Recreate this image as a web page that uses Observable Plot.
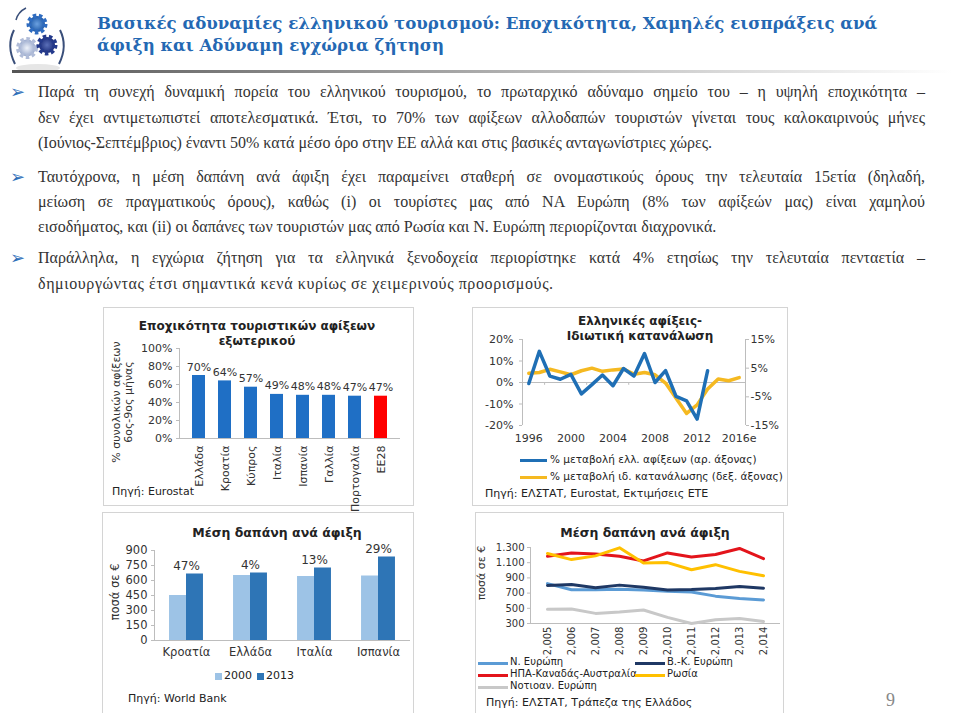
<!DOCTYPE html>
<html><head><meta charset="utf-8">
<script src="https://cdn.jsdelivr.net/npm/d3@7"></script>
<script src="https://cdn.jsdelivr.net/npm/@observablehq/plot@0.6"></script>
<style>
html,body{margin:0;padding:0;background:#fff;}
body{width:960px;height:713px;overflow:hidden;position:relative;font-family:"DejaVu Sans",sans-serif;color:#333;}
.abs{position:absolute;}
#title{left:97px;top:12px;font-family:"DejaVu Serif",serif;font-weight:bold;font-size:16.6px;line-height:22px;color:#2468b3;white-space:nowrap;}
#rule{left:12px;top:70px;width:940px;height:3px;background:linear-gradient(to right,#555 0%,#999 40%,#d8d8d8 75%,#fff 100%);}
.line{position:absolute;left:38px;width:887px;font-family:"Liberation Serif","Times New Roman",serif;font-size:16px;color:#333;white-space:nowrap;text-align:justify;text-align-last:justify;line-height:20px;}
.line.last{text-align:left;text-align-last:left;}
.bullet{position:absolute;left:10px;font-size:18px;color:#2e6eb8;font-family:"DejaVu Sans";line-height:20px;}
.box{position:absolute;border:1px solid #d4d4d4;box-sizing:border-box;}
.ctitle{position:absolute;font-weight:bold;font-size:12px;color:#222;text-align:center;line-height:15px;white-space:nowrap;transform:translateX(-50%);}
.src{position:absolute;font-size:11px;color:#222;white-space:nowrap;}
.rot{position:absolute;transform:translate(-50%,-50%) rotate(-90deg);white-space:nowrap;text-align:center;font-size:11px;line-height:12px;color:#333;}
.leg{position:absolute;font-size:10.5px;color:#222;white-space:nowrap;}
.leg4{position:absolute;font-size:10px;color:#222;white-space:nowrap;}
.lsw{position:absolute;height:3px;}
.chart{position:absolute;}
</style></head><body>

<svg class="abs" style="left:0;top:0" width="80" height="75" viewBox="0 0 80 75">
  <defs><radialGradient id="g1"><stop offset="0" stop-color="#6aa0e0"/><stop offset="1" stop-color="#1f5aa8"/></radialGradient>
  <radialGradient id="g2"><stop offset="0" stop-color="#5a6fb8"/><stop offset="1" stop-color="#1c2d7a"/></radialGradient>
  <radialGradient id="g3"><stop offset="0" stop-color="#eef2fa"/><stop offset="1" stop-color="#9aaacd"/></radialGradient></defs>
  <ellipse cx="38" cy="68" rx="22" ry="4" fill="#e6e6e6"/>
  <circle cx="37" cy="24" r="8" fill="url(#g1)" stroke="#2f6cc0" stroke-width="5" stroke-dasharray="3.2 2.4"/>
  <circle cx="27" cy="48" r="8.5" fill="url(#g3)" stroke="#b0bcd8" stroke-width="5" stroke-dasharray="3.2 2.4"/>
  <circle cx="47" cy="45" r="8" fill="url(#g2)" stroke="#243a8c" stroke-width="5" stroke-dasharray="3.2 2.4"/>
  <path d="M14 30 Q6 46 15 64" fill="none" stroke="#3a4f7a" stroke-width="2"/>
  <path d="M60 30 Q68 46 59 64" fill="none" stroke="#3a4f7a" stroke-width="2"/>
  <path d="M26 8 Q18 12 16 20" fill="none" stroke="#3a4f7a" stroke-width="1.5"/>
</svg>

<div id="title" class="abs">Βασικές αδυναμίες ελληνικού τουρισμού: Εποχικότητα, Χαμηλές εισπράξεις ανά<br>άφιξη και Αδύναμη εγχώρια ζήτηση</div>
<div id="rule" class="abs"></div>

<div class="bullet" style="top:82px">➢</div>
<div class="line" style="top:82px">Παρά τη συνεχή δυναμική πορεία του ελληνικού τουρισμού, το πρωταρχικό αδύναμο σημείο του – η υψηλή εποχικότητα –</div>
<div class="line" style="top:108px">δεν έχει αντιμετωπιστεί αποτελεσματικά. Έτσι, το 70% των αφίξεων αλλοδαπών τουριστών γίνεται τους καλοκαιρινούς μήνες</div>
<div class="line last" style="top:133px">(Ιούνιος-Σεπτέμβριος) έναντι 50% κατά μέσο όρο στην ΕΕ αλλά και στις βασικές ανταγωνίστριες χώρες.</div>

<div class="bullet" style="top:167px">➢</div>
<div class="line" style="top:167px">Ταυτόχρονα, η μέση δαπάνη ανά άφιξη έχει παραμείνει σταθερή σε ονομαστικούς όρους την τελευταία 15ετία (δηλαδή,</div>
<div class="line" style="top:192px">μείωση σε πραγματικούς όρους), καθώς (i) οι τουρίστες μας από ΝΑ Ευρώπη (8% των αφίξεών μας) είναι χαμηλού</div>
<div class="line last" style="top:217px">εισοδήματος, και (ii) οι δαπάνες των τουριστών μας από Ρωσία και Ν. Ευρώπη περιορίζονται διαχρονικά.</div>

<div class="bullet" style="top:248px">➢</div>
<div class="line" style="top:248px">Παράλληλα, η εγχώρια ζήτηση για τα ελληνικά ξενοδοχεία περιορίστηκε κατά 4% ετησίως την τελευταία πενταετία –</div>
<div class="line last" style="top:274px;letter-spacing:0.6px">δημιουργώντας έτσι σημαντικά κενά κυρίως σε χειμερινούς προορισμούς.</div>

<div class="box" style="left:103px;top:307px;width:311px;height:199px"></div>
<div class="box" style="left:472px;top:307px;width:316px;height:199px"></div>
<div class="box" style="left:102px;top:512px;width:312px;height:210px"></div>
<div class="box" style="left:475px;top:512px;width:309px;height:210px"></div>

<div id="c1" class="chart" style="left:103px;top:307px"></div>
<div id="c2" class="chart" style="left:472px;top:308px"></div>
<div id="c3" class="chart" style="left:103px;top:512px"></div>
<div id="c4" class="chart" style="left:475px;top:512px"></div>

<div class="ctitle" style="left:257px;top:319px">Εποχικότητα τουριστικών αφίξεων<br>εξωτερικού</div>
<div class="rot" style="left:123px;top:402px">% συνολικών αφίξεων<br>6ος-9ος μήνας</div>
<div class="src" style="left:112px;top:485px">Πηγή: Eurostat</div>

<div class="ctitle" style="left:640px;top:314px">Ελληνικές αφίξεις-<br>Ιδιωτική κατανάλωση</div>
<div class="lsw" style="left:520px;top:459px;width:27px;background:#1f6fb5"></div>
<div class="leg" style="left:550px;top:453px">% μεταβολή ελλ. αφίξεων (αρ. άξονας)</div>
<div class="lsw" style="left:520px;top:476px;width:27px;background:#f5b921"></div>
<div class="leg" style="left:550px;top:470px">% μεταβολή ιδ. κατανάλωσης (δεξ. άξονας)</div>
<div class="src" style="left:485px;top:487px">Πηγή: ΕΛΣΤΑΤ, Eurostat, Εκτιμήσεις ΕΤΕ</div>

<div class="ctitle" style="left:277px;top:525px;font-size:12.5px">Μέση δαπάνη ανά άφιξη</div>
<div class="rot" style="left:115px;top:592px;font-size:11.5px">ποσά σε €</div>
<div class="lsw" style="left:215px;top:673px;width:7px;height:7px;background:#9dc3e6"></div>
<div class="leg" style="left:224px;top:669px;font-size:11px">2000</div>
<div class="lsw" style="left:257px;top:673px;width:7px;height:7px;background:#2e75b6"></div>
<div class="leg" style="left:266px;top:669px;font-size:11px">2013</div>
<div class="src" style="left:128px;top:692px">Πηγή: World Bank</div>

<div class="ctitle" style="left:645px;top:525px;font-size:12.5px">Μέση δαπάνη ανά άφιξη</div>
<div class="rot" style="left:482px;top:573px">ποσά σε €</div>
<div class="lsw" style="left:478px;top:662px;width:30px;background:#5b9bd5"></div>
<div class="leg4" style="left:510px;top:656px">Ν. Ευρώπη</div>
<div class="lsw" style="left:635px;top:662px;width:30px;background:#1f3864"></div>
<div class="leg4" style="left:667px;top:656px">Β.-Κ. Ευρώπη</div>
<div class="lsw" style="left:478px;top:674px;width:30px;background:#e3141b"></div>
<div class="leg4" style="left:510px;top:668px">ΗΠΑ-Καναδάς-Αυστραλία</div>
<div class="lsw" style="left:635px;top:674px;width:30px;background:#ffc000"></div>
<div class="leg4" style="left:667px;top:668px">Ρωσία</div>
<div class="lsw" style="left:478px;top:686px;width:30px;background:#c8c8c8"></div>
<div class="leg4" style="left:510px;top:680px">Νοτιοαν. Ευρώπη</div>
<div class="src" style="left:486px;top:696px">Πηγή: ΕΛΣΤΑΤ, Τράπεζα της Ελλάδος</div>

<div class="abs" style="left:886px;top:690px;font-family:'Liberation Serif',serif;font-size:18px;line-height:20px;color:#888">9</div>

<script>
// ---------- Data ----------
const c1Countries = ["Ελλάδα","Κροατία","Κύπρος","Ιταλία","Ισπανία","Γαλλία","Πορτογαλία","ΕΕ28"];
const c1Values = [70, 64, 57, 49, 48, 48, 47, 47];

const c2ArrivalYears = [1996,1997,1998,1999,2000,2001,2002,2003,2004,2005,2006,2007,2008,2009,2010,2011,2012,2013];
const c2Arrivals = [-0.5, 14.5, 3.0, 1.5, 3.8, -5.3, -1.0, 3.5, -1.5, 6.5, 3.0, 13.5, 0.0, 5.5, -6.5, -8.5, -17.0, 5.5];
const c2ConsYears = [1996,1997,1998,1999,2000,2001,2002,2003,2004,2005,2006,2007,2008,2009,2010,2011,2012,2013,2014,2015,2016];
const c2Consumption = [3.2, 3.5, 4.6, 3.7, 2.7, 4.1, 5.0, 3.9, 4.4, 4.7, 2.9, 3.5, 2.7, -0.2, -5.5, -10.8, -7.8, -2.3, 1.2, 0.6, 1.7];
const c2XTicks = [1996, 2000, 2004, 2008, 2012, 2016];
const c2XLabels = ["1996", "2000", "2004", "2008", "2012", "2016e"];
const c2LeftTicks = [-20, -10, 0, 10, 20];
const c2RightTicks = [-15, -5, 5, 15];

const c3Countries = ["Κροατία","Ελλάδα","Ιταλία","Ισπανία"];
const c3Y2000 = [450, 650, 640, 645];
const c3Y2013 = [665, 675, 725, 835];
const c3Change = ["47%", "4%", "13%", "29%"];

const c4Years = [2005,2006,2007,2008,2009,2010,2011,2012,2013,2014];
const c4Series = ["Ν. Ευρώπη","Β.-Κ. Ευρώπη","ΗΠΑ-Καναδάς-Αυστραλία","Ρωσία","Νοτιοαν. Ευρώπη"];
const c4NEurope  = [825, 745, 745, 750, 740, 725, 715, 660, 630, 610];
const c4NWEurope = [800, 812, 770, 805, 778, 742, 747, 760, 787, 765];
const c4NAmerica = [1185, 1229, 1216, 1185, 1123, 1229, 1176, 1207, 1287, 1154];
const c4Russia   = [1220, 1141, 1190, 1296, 1097, 1101, 1008, 1074, 986, 928];
const c4SEEurope = [486, 490, 433, 450, 477, 380, 300, 349, 366, 327];
const c4YTicks = [300, 500, 700, 900, 1100, 1300];

// ---------- Styles ----------
const axisGray = "#bdbdbd";
const baseStyle = {fontFamily: "DejaVu Sans", fontSize: "10.5px", color: "#333", background: "transparent", overflow: "visible"};

// ---------- Chart 1 ----------
const c1Data = c1Countries.map((c, i) => ({country: c, value: c1Values[i]}));
const c1 = Plot.plot({
  width: 310, height: 198,
  marginLeft: 76, marginRight: 13, marginTop: 41, marginBottom: 67,
  style: baseStyle,
  x: {domain: c1Countries, padding: 0.5},
  y: {domain: [0, 100]},
  color: {type: "identity"},
  marks: [
    Plot.barY(c1Data, {x: "country", y: "value", fill: d => d.country === "ΕΕ28" ? "#ff0000" : "#1f6fc5"}),
    Plot.text(c1Data, {x: "country", y: "value", text: d => d.value + "%", dy: -5, lineAnchor: "bottom", fontSize: 11, fill: "#333"}),
    Plot.ruleY([0], {stroke: axisGray}),
    Plot.frame({anchor: "left", stroke: axisGray}),
    Plot.axisY({ticks: [0, 20, 40, 60, 80, 100], tickFormat: d => d + "%", tickSize: 3, tickPadding: 4, stroke: axisGray, fontSize: 11, label: null}),
    Plot.axisX({tickRotate: -90, tickSize: 0, tickPadding: 7, fontSize: 11, label: null})
  ]
});
document.getElementById("c1").append(c1);

// ---------- Chart 2 ----------
const c2xDomain = [1995.4, 2016.6];
const ratio = 20 / 15;
const arrData = c2ArrivalYears.map((y, i) => ({year: y, v: c2Arrivals[i]}));
const consData = c2ConsYears.map((y, i) => ({year: y, v: c2Consumption[i]}));
const c2 = Plot.plot({
  width: 313, height: 195,
  marginLeft: 50, marginRight: 40, marginTop: 31, marginBottom: 78,
  style: baseStyle,
  x: {type: "linear", domain: c2xDomain},
  y: {domain: [-20, 20]},
  marks: [
    Plot.ruleY([0], {stroke: axisGray}),
    Plot.ruleX(d3.range(1997.5, 2016, 4), {y1: 0, y2: -1.3, stroke: axisGray}),
    Plot.ruleX([c2xDomain[0], c2xDomain[1]], {stroke: axisGray}),
    Plot.line(consData, {x: "year", y: d => d.v * ratio, stroke: "#f5b921", strokeWidth: 3.5}),
    Plot.line(arrData, {x: "year", y: "v", stroke: "#1f6fb5", strokeWidth: 3.5}),
    Plot.axisY({ticks: c2LeftTicks, tickFormat: d => d + "%", tickSize: 3, tickPadding: 6, stroke: axisGray, fontSize: 11, label: null}),
    Plot.axisY({anchor: "right", ticks: c2RightTicks.map(d => d * ratio), tickFormat: d => Math.round(d / ratio) + "%", tickSize: 3, tickPadding: 2, stroke: axisGray, fontSize: 11, label: null}),
    Plot.axisX({ticks: c2XTicks, tickFormat: d => c2XLabels[c2XTicks.indexOf(d)], tickSize: 0, tickPadding: 9, fontSize: 11, label: null})
  ]
});
document.getElementById("c2").append(c2);

// ---------- Chart 3 ----------
const bw = 0.265;
const c3Bars = [];
c3Countries.forEach((c, i) => {
  c3Bars.push({i, year: "2000", v: c3Y2000[i]});
  c3Bars.push({i, year: "2013", v: c3Y2013[i]});
});
const c3Labels = c3Countries.map((c, i) => ({i, v: Math.max(c3Y2000[i], c3Y2013[i]), t: c3Change[i]}));
const c3 = Plot.plot({
  width: 310, height: 160,
  marginLeft: 51, marginRight: 3, marginTop: 38, marginBottom: 32,
  style: {...baseStyle, fontSize: "11.5px"},
  x: {type: "linear", domain: [-0.5, 3.5]},
  y: {domain: [0, 900]},
  marks: [
    Plot.rectY(c3Bars, {x1: d => d.year === "2000" ? d.i - bw : d.i, x2: d => d.year === "2000" ? d.i : d.i + bw, y: "v", fill: d => d.year === "2000" ? "#9dc3e6" : "#2e75b6"}),
    Plot.text(c3Labels, {x: "i", y: "v", text: "t", dy: -4, lineAnchor: "bottom", fontSize: 12, fill: "#333"}),
    Plot.ruleY([0], {stroke: axisGray}),
    Plot.ruleX([-0.5], {stroke: axisGray}),
    Plot.axisY({ticks: d3.range(0, 901, 150), tickSize: 3, tickPadding: 4, stroke: axisGray, fontSize: 11.5, label: null}),
    Plot.axisX({ticks: [0, 1, 2, 3], tickFormat: i => c3Countries[i], tickSize: 0, tickPadding: 7, fontSize: 11.5, label: null})
  ]
});
document.getElementById("c3").append(c3);

// ---------- Chart 4 ----------
const c4Values = [c4NEurope, c4NWEurope, c4NAmerica, c4Russia, c4SEEurope];
const c4Colors = ["#5b9bd5", "#1f3864", "#e3141b", "#ffc000", "#c8c8c8"];
const c4Data = c4Series.flatMap((s, k) => c4Years.map((y, j) => ({series: s, year: y, v: c4Values[k][j]})));
const fmtThousands = d => d >= 1000 ? d3.format(",")(d).replace(",", ".") : String(d);
const c4 = Plot.plot({
  width: 308, height: 155,
  marginLeft: 55, marginRight: 4, marginTop: 35, marginBottom: 44,
  style: baseStyle,
  x: {type: "point", domain: c4Years, padding: 0.5},
  y: {domain: [300, 1300]},
  color: {domain: c4Series, range: c4Colors},
  marks: [
    Plot.frame({anchor: "left", stroke: axisGray}),
    Plot.frame({anchor: "bottom", stroke: axisGray}),
    ...c4Series.map(s => Plot.line(c4Data.filter(d => d.series === s), {x: "year", y: "v", stroke: "series", strokeWidth: 3})),
    Plot.axisY({ticks: c4YTicks, tickFormat: fmtThousands, tickSize: 3, tickPadding: 3, stroke: axisGray, fontSize: 10, label: null}),
    Plot.axisX({tickRotate: -90, tickSize: 0, tickPadding: 3, fontSize: 10, label: null})
  ]
});
document.getElementById("c4").append(c4);
</script>
</body></html>
